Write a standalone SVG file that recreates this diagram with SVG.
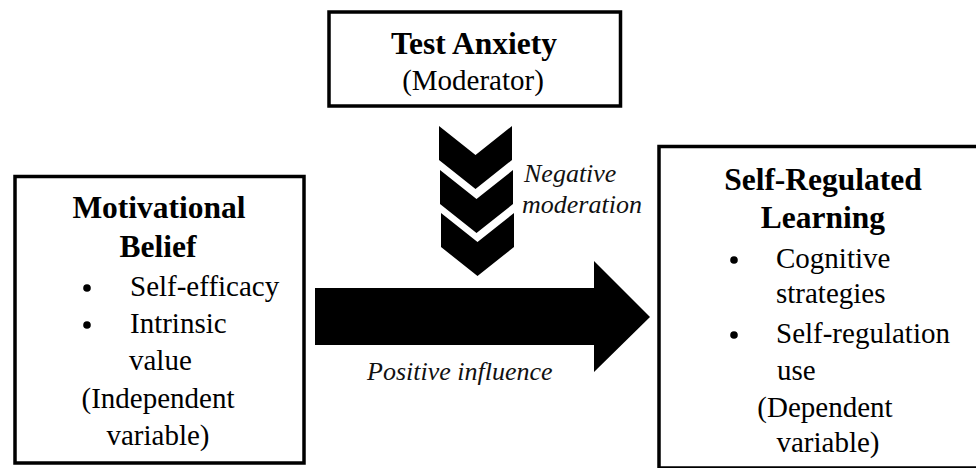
<svg xmlns="http://www.w3.org/2000/svg" width="976" height="468" viewBox="0 0 976 468">
<style>
text{font-family:'Liberation Serif','Times New Roman',serif;fill:#000}
.b{font-weight:bold;font-size:31.5px}
.r{font-size:29px}
.i{font-style:italic;font-size:26px;fill:#111}
.c{text-anchor:middle}
.blk{fill:#000}
.box{fill:#fff;stroke:#000;stroke-width:3.5}
</style>
<rect width="976" height="468" fill="#fff"/>
<g id="connectors">
  <g id="moderation">
    <polygon class="blk" points="439,126 475.5,155 512,126 512,160 475.5,189 439,160"/>
    <polygon class="blk" points="440,170 476.5,199 513,170 513,204 476.5,233 440,204"/>
    <polygon class="blk" points="441,213 477.5,242 514,213 514,247 477.5,276 441,247"/>
    <text class="i" x="524" y="182">Negative</text>
    <text class="i" x="522" y="213">moderation</text>
  </g>
  <g id="influence">
    <polygon class="blk" points="315,288 594,288 594,261 650,317 594,372 594,345 315,345"/>
    <text class="i" x="367" y="380">Positive influence</text>
  </g>
</g>
<g id="test-anxiety">
  <rect class="box" x="329" y="12" width="291.5" height="94"/>
  <text class="b c" x="474" y="54">Test Anxiety</text>
  <text class="r c" x="473" y="90">(Moderator)</text>
</g>
<g id="motivational-belief">
  <rect class="box" x="15" y="176.5" width="289" height="286.5"/>
  <text class="b c" x="159" y="218">Motivational</text>
  <text class="b c" x="158" y="257">Belief</text>
  <circle cx="87" cy="288" r="3.8"/>
  <text class="r" x="130" y="296">Self-efficacy</text>
  <circle cx="87" cy="325" r="3.8"/>
  <text class="r" x="130" y="333">Intrinsic</text>
  <text class="r" x="129" y="370">value</text>
  <text class="r c" x="158" y="408">(Independent</text>
  <text class="r c" x="158" y="445">variable)</text>
</g>
<g id="self-regulated-learning">
  <rect class="box" x="659" y="146.5" width="330" height="321.5"/>
  <text class="b c" x="823" y="190">Self-Regulated</text>
  <text class="b c" x="823" y="228">Learning</text>
  <circle cx="734" cy="260" r="3.8"/>
  <text class="r" x="776" y="268">Cognitive</text>
  <text class="r" x="776" y="303">strategies</text>
  <circle cx="734" cy="335" r="3.8"/>
  <text class="r" x="776" y="343">Self-regulation</text>
  <text class="r" x="777" y="380">use</text>
  <text class="r c" x="825" y="417">(Dependent</text>
  <text class="r c" x="828" y="452">variable)</text>
</g>
</svg>
